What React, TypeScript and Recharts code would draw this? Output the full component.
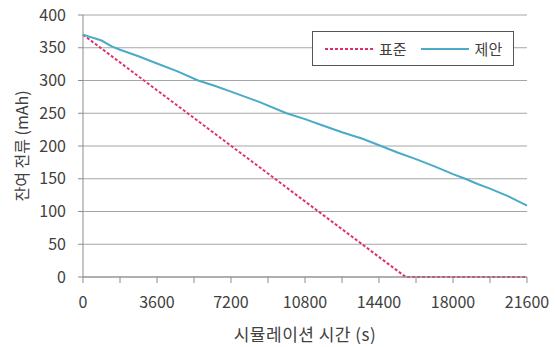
import React from 'react';
import { LineChart, Line, XAxis, YAxis, CartesianGrid, Legend, Label } from 'recharts';

const proposedTimes = [0, 900, 1400, 1800, 2700, 3600, 4600, 5600, 6400, 7200, 8600, 9900, 10800, 11700, 12600, 13600, 14500, 15300, 16200, 17100, 18000, 18600, 19200, 19800, 20700, 21600];
const proposedValues = [370, 361, 352, 347, 337, 326, 314, 300, 292, 283, 267, 250, 241, 231, 221, 211, 200, 190, 180, 169, 157, 150, 142, 135, 123, 109];
const standardTimes = [0, 15700, 21600];
const standardValues = [370, 0, 0];
const xTicks = [0, 1800, 3600, 5400, 7200, 9000, 10800, 12600, 14400, 16200, 18000, 19800, 21600];
const yTicks = [0, 50, 100, 150, 200, 250, 300, 350, 400];
const seriesNames = ['표준', '제안'];

const proposedData = proposedTimes.map((t, i) => ({ t, v: proposedValues[i] }));
const standardData = standardTimes.map((t, i) => ({ t, v: standardValues[i] }));

const FONT = "'Noto Sans CJK KR', 'Noto Sans', sans-serif";
const RED = '#e0306a';
const BLUE = '#4aaac8';
const TEXT = '#404040';

const LegendBox = () => (
  <div
    style={{
      width: 202,
      height: 35,
      border: '1.5px solid #555',
      background: '#fff',
      display: 'flex',
      alignItems: 'center',
      fontFamily: FONT,
      fontSize: 15,
      color: TEXT,
      boxSizing: 'border-box',
    }}
  >
    <svg width={50} height={10} style={{ marginLeft: 12 }}>
      <line x1={0} y1={5} x2={48} y2={5} stroke={RED} strokeWidth={2} strokeDasharray="3 2" />
    </svg>
    <span style={{ marginLeft: 4 }}>{seriesNames[0]}</span>
    <svg width={50} height={10} style={{ marginLeft: 14 }}>
      <line x1={0} y1={5} x2={48} y2={5} stroke={BLUE} strokeWidth={2} />
    </svg>
    <span style={{ marginLeft: 4 }}>{seriesNames[1]}</span>
  </div>
);

export default function App() {
  return (
    <div style={{ position: 'absolute', left: 0, top: 0, width: 555, height: 347, background: '#fff' }}>
      <LineChart width={555} height={347} margin={{ top: 15, right: 28, left: 0, bottom: 40 }}>
        <CartesianGrid horizontal={true} vertical={false} stroke="#a6a6a6" strokeWidth={1.2} />
        <XAxis
          type="number"
          dataKey="t"
          domain={[0, 21600]}
          ticks={xTicks}
          interval={0}
          height={30}
          tickSize={6}
          tickMargin={14}
          tickFormatter={(v: number) => (v % 3600 === 0 ? String(v) : '')}
          stroke="#8c8c8c"
          tick={{ fill: TEXT, fontSize: 16, fontFamily: FONT }}
          allowDuplicatedCategory={false}
        >
          <Label value="시뮬레이션 시간 (s)" position="bottom" offset={-4} style={{ fill: TEXT, fontSize: 17, fontFamily: FONT, letterSpacing: 0.5 }} dy={26} />
        </XAxis>
        <YAxis
          type="number"
          domain={[0, 400]}
          ticks={yTicks}
          interval={0}
          width={83}
          tickSize={5}
          tickMargin={12}
          stroke="#8c8c8c"
          tick={{ fill: TEXT, fontSize: 16, fontFamily: FONT }}
        >
          <Label
            value="잔여 전류 (mAh)"
            angle={-90}
            position="insideLeft"
            offset={22}
            style={{ fill: TEXT, fontSize: 16, fontFamily: FONT, textAnchor: 'middle' }}
          />
        </YAxis>
        <Legend
          content={<LegendBox />}
          layout="horizontal"
          verticalAlign="middle"
          align="center"
          wrapperStyle={{ position: 'absolute', left: 312, top: 31, width: 202 }}
        />
        <Line
          data={standardData}
          dataKey="v"
          name={seriesNames[0]}
          stroke={RED}
          strokeWidth={2}
          strokeDasharray="3 2"
          dot={false}
          isAnimationActive={false}
          type="linear"
        />
        <Line
          data={proposedData}
          dataKey="v"
          name={seriesNames[1]}
          stroke={BLUE}
          strokeWidth={2}
          dot={false}
          isAnimationActive={false}
          type="linear"
        />
      </LineChart>
    </div>
  );
}
